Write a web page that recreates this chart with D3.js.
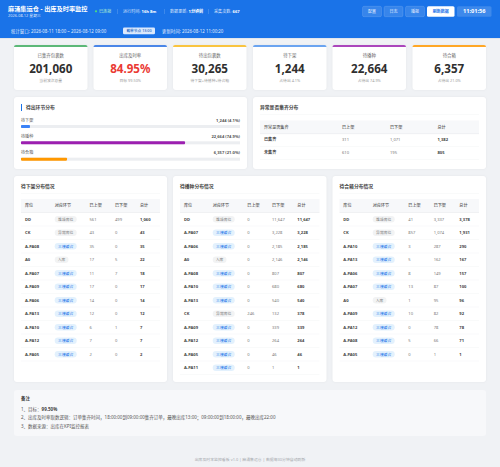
<!DOCTYPE html>
<html>
<head>
<meta charset="utf-8">
<script src="https://cdn.jsdelivr.net/npm/d3@7"></script>
<style>
  html, body { margin: 0; padding: 0; background: #f0f2f5; }
  svg { display: block; }
  text { font-family: "Noto Sans", "Noto Sans CJK SC", sans-serif; }
</style>
</head>
<body>
<div id="vis"></div>
<script>
// kpi cards
const kpiLabels = ['已集齐包裹数', '出库及时率', '待出包裹数', '待下架', '待播种', '待合箱'];
const kpiValues = ['201,060', '84.95%', '30,265', '1,244', '22,664', '6,357'];
const kpiNotes = ['当前波次总量', '目标 99.50%', '待下架+待播种+待合箱', '占待出 4.1%', '占待出 74.9%', '占待出 21.0%'];
const kpiColors = ['#5cb878', '#4a86e8', '#f9c440', '#6ba4f0', '#ab47bc', '#ffa726'];

// progress bars
const stageNames = ['待下架', '待播种', '待合箱'];
const stageCounts = [1244, 22664, 6357];
const stagePcts = [4.1, 74.9, 21.0];
const stageColors = ['#3b82f6', '#9c1fb0', '#ff9800'];

// table columns
const exceptionColumns = ['异常是否集齐', '已上架', '已下架', '总计'];
const exceptionRows = ['已集齐', '未集齐'];
const exceptionUp = [311, 610];
const exceptionDown = [1071, 195];
const locColumns = ['库位', '对应环节', '已上架', '已下架', '总计'];

// 待下架
const pickLocs = ['DD', 'CK', 'A-PA08', 'A0', 'A-PA07', 'A-PA09', 'A-PA06', 'A-PA13', 'A-PA10', 'A-PA12', 'A-PA05'];
const pickStage = ['堆垛库位', '异常库位', '三楼缓合', '入库', '三楼缓合', '三楼缓合', '三楼缓合', '三楼缓合', '三楼缓合', '三楼缓合', '三楼缓合'];
const pickUp = [561, 43, 35, 17, 11, 17, 14, 12, 6, 7, 2];
const pickDown = [499, 0, 0, 5, 7, 0, 0, 0, 1, 0, 0];

// 待播种
const seedLocs = ['DD', 'A-PA07', 'A-PA06', 'A0', 'A-PA08', 'A-PA10', 'A-PA13', 'CK', 'A-PA09', 'A-PA12', 'A-PA05', 'A-PA11'];
const seedStage = ['堆垛库位', '三楼缓合', '三楼缓合', '入库', '三楼缓合', '三楼缓合', '三楼缓合', '异常库位', '三楼缓合', '三楼缓合', '三楼缓合', '三楼缓合'];
const seedUp = [0, 0, 0, 0, 0, 0, 0, 246, 0, 0, 0, 0];
const seedDown = [11647, 3228, 2185, 2146, 807, 680, 540, 132, 339, 264, 46, 1];

// 待合箱
const packLocs = ['DD', 'CK', 'A-PA10', 'A-PA13', 'A-PA06', 'A-PA07', 'A0', 'A-PA09', 'A-PA12', 'A-PA08', 'A-PA05'];
const packStage = ['堆垛库位', '异常库位', '三楼缓合', '三楼缓合', '三楼缓合', '三楼缓合', '入库', '三楼缓合', '三楼缓合', '三楼缓合', '三楼缓合'];
const packUp = [41, 857, 3, 5, 8, 13, 1, 10, 0, 5, 0];
const packDown = [3337, 1074, 287, 162, 149, 87, 95, 82, 78, 66, 1];

const notes = [
  ['1、目标：', '99.50%'],
  ['2、出库及时率取数逻辑：订单集齐时间，18:00:00到09:00:00集齐订单，最晚出库13:00；09:00:00到18:00:00，最晚出库22:00', ''],
  ['3、数据来源：出库在KPI监控报表', '']
];

const fmt = d3.format(',');

const svg = d3.select('#vis')
  .append('svg')
  .attr('width', 500)
  .attr('height', 467)
  .attr('viewBox', '0 0 500 467');

// small helpers
function label(g, x, y, str, size, fill, weight, anchor) {
  return g.append('text')
    .attr('x', x)
    .attr('y', y)
    .attr('dy', '0.35em')
    .attr('font-size', size)
    .attr('fill', fill)
    .attr('font-weight', weight || 400)
    .attr('text-anchor', anchor || 'start')
    .text(str);
}

function card(x, y, w, h) {
  svg.append('rect')
    .attr('x', x).attr('y', y)
    .attr('width', w).attr('height', h)
    .attr('rx', 3)
    .attr('fill', '#fff')
    .style('filter', 'drop-shadow(0 0.5px 1px rgba(0,0,0,0.05))');
}

svg.append('rect').attr('width', 500).attr('height', 467).attr('fill', '#f0f2f5');

// header
const head = svg.append('g');
head.append('rect').attr('width', 500).attr('height', 38).attr('fill', '#1a73e8');
label(head, 8, 9.3, '麻涌集运仓 - 出库及时率监控', 6.2, '#fff', 700);
label(head, 8, 15.8, '2026-08-12 星期三', 3.9, 'rgba(255,255,255,0.85)');
head.append('circle').attr('cx', 96).attr('cy', 11.3).attr('r', 1.1).attr('fill', '#4ade80');
label(head, 99, 11.5, '已连接', 4.1, '#bbf7d0');

const statX = [123, 170, 214];
const statNames = ['运行时间: ', '数据更新: ', '采集次数: '];
const statVals = ['16h 8m', '1分钟前', '667'];
statNames.forEach((s, i) => {
  head.append('rect').attr('x', statX[i] - 6).attr('y', 9).attr('width', 0.4).attr('height', 5).attr('fill', 'rgba(255,255,255,0.4)');
  const t = label(head, statX[i], 11.5, s, 4.1, 'rgba(255,255,255,0.85)');
  t.append('tspan').attr('font-weight', 700).attr('fill', '#fff').text(statVals[i]);
});

const btnX = [362.5, 384, 405.5];
const btnNames = ['配置', '日志', '播报'];
btnNames.forEach((s, i) => {
  head.append('rect').attr('x', btnX[i]).attr('y', 6.3).attr('width', 19).attr('height', 10.4).attr('rx', 1.5)
    .attr('fill', 'rgba(255,255,255,0.13)').attr('stroke', 'rgba(255,255,255,0.3)').attr('stroke-width', 0.4);
  label(head, btnX[i] + 9.5, 11.5, s, 4, '#e8f0fe', 400, 'middle');
});
head.append('rect').attr('x', 427).attr('y', 6.3).attr('width', 27.5).attr('height', 10.4).attr('rx', 1.5).attr('fill', '#fff');
label(head, 440.7, 11.5, '刷新数据', 4, '#1a73e8', 700, 'middle');
head.append('rect').attr('x', 457).attr('y', 6.3).attr('width', 34.5).attr('height', 10.4).attr('rx', 1.5).attr('fill', 'rgba(255,255,255,0.16)');
label(head, 474.2, 11.5, '11:01:56', 5.6, '#fff', 700, 'middle');

label(head, 11, 31, '统计窗口: 2026-08-11 18:00 ~ 2026-08-12 09:00', 4.4, 'rgba(255,255,255,0.9)');
head.append('rect').attr('x', 123).attr('y', 27.5).attr('width', 32).attr('height', 6.8).attr('rx', 1.3).attr('fill', '#dbe9fd');
label(head, 139, 31, '截单节点 13:00', 3.7, '#1a5fc0', 500, 'middle');
label(head, 162, 31, '更新时间: 2026-08-12 11:00:20', 4.4, 'rgba(255,255,255,0.9)');
svg.append('rect').attr('y', 38).attr('width', 500).attr('height', 1).attr('fill', '#e2e6ec');

// kpi cards
const kpiX = d3.scaleOrdinal().domain(kpiLabels).range([14, 93.5, 173, 253, 332.5, 412.5]);
kpiLabels.forEach((name, i) => {
  const x = kpiX(name), w = 73.5, mid = x + w / 2;
  card(x, 45, w, 45);
  svg.append('path')
    .attr('d', `M${x},47 a2,2 0 0 1 2,-2 h${w - 4} a2,2 0 0 1 2,2 z`)
    .attr('fill', kpiColors[i]);
  label(svg, mid, 55.3, name, 4.4, '#666', 400, 'middle');
  label(svg, mid, 68.5, kpiValues[i], 11.6, i === 1 ? '#ea3a33' : '#2f2f2f', 700, 'middle');
  label(svg, mid, 80.5, kpiNotes[i], 3.8, '#9a9a9a', 400, 'middle');
});

// stage distribution
card(14, 97, 233, 72);
svg.append('rect').attr('x', 21).attr('y', 104).attr('width', 1).attr('height', 7).attr('fill', '#1a73e8');
label(svg, 26, 107.7, '待出环节分布', 4.8, '#444', 700);

const barX = d3.scaleLinear().domain([0, 100]).range([21, 240]);
const barY = d3.scaleBand().domain(stageNames).range([118, 167]);
stageNames.forEach((name, i) => {
  const y = barY(name);
  label(svg, 21, y + 2.2, name, 4.1, '#555');
  label(svg, 240, y + 2.2, `${fmt(stageCounts[i])} (${stagePcts[i].toFixed(1)}%)`, 4.1, '#555', 700, 'end');
  svg.append('rect').attr('x', barX(0)).attr('y', y + 7).attr('width', barX(100) - barX(0)).attr('height', 3).attr('fill', '#eceef1');
  svg.append('rect').attr('x', barX(0)).attr('y', y + 7).attr('width', barX(stagePcts[i]) - barX(0)).attr('height', 3).attr('rx', 0.8).attr('fill', stageColors[i]);
});

// generic table
function tableHead(x0, x1, yTop, xs, names) {
  svg.append('rect').attr('x', x0).attr('y', yTop).attr('width', x1 - x0).attr('height', 13).attr('fill', '#f7f8fa');
  svg.append('rect').attr('x', x0).attr('y', yTop + 13).attr('width', x1 - x0).attr('height', 0.6).attr('fill', '#e6e8eb');
  names.forEach((n, i) => label(svg, xs[i], yTop + 6.6, n, 4.1, '#555', 500));
}

function rowLine(x0, x1, y) {
  svg.append('rect').attr('x', x0).attr('y', y).attr('width', x1 - x0).attr('height', 0.4).attr('fill', '#f0f1f3');
}

// exception table
card(253, 97, 233, 72);
label(svg, 260, 107.7, '异常是否集齐分布', 4.8, '#444', 700);
rowLine(260, 479, 114.5);
const excX = [264, 342, 390, 437.5];
tableHead(260, 479, 120.5, excX, exceptionColumns);
const excY = d3.scalePoint().domain(exceptionRows).range([140, 152.7]);
exceptionRows.forEach((name, i) => {
  const y = excY(name);
  label(svg, excX[0], y, name, 4.1, '#444', 700);
  label(svg, excX[1], y, fmt(exceptionUp[i]), 4.1, '#777');
  label(svg, excX[2], y, fmt(exceptionDown[i]), 4.1, '#777');
  label(svg, excX[3], y, fmt(exceptionUp[i] + exceptionDown[i]), 4.1, '#444', 700);
  rowLine(260, 479, y + 6.3);
});

// location tables
const rowStep = 13.5;
function locTable(title, x, w, xs, locs, stages, up, down) {
  card(x, 176, w, 206);
  const x0 = x + 7, x1 = x + w - 7;
  label(svg, x0, 186.5, title, 4.8, '#444', 700);
  rowLine(x0, x1, 193);
  tableHead(x0, x1, 199, xs, locColumns);
  const rowY = d3.scalePoint()
    .domain(locs)
    .range([219.3, 219.3 + rowStep * (locs.length - 1)]);
  locs.forEach((loc, i) => {
    const y = rowY(loc);
    label(svg, xs[0], y, loc, 4.1, '#444', 700);
    const isBlue = stages[i] === '三楼缓合';
    const pw = stages[i].length * 4.1 + 5.6;
    svg.append('rect').attr('x', xs[1]).attr('y', y - 3.3).attr('width', pw).attr('height', 6.6).attr('rx', 3.3)
      .attr('fill', isBlue ? '#e3f1fd' : '#f2f3f4');
    label(svg, xs[1] + pw / 2, y, stages[i], 3.8, isBlue ? '#1a73e8' : '#777', 400, 'middle');
    label(svg, xs[2], y, fmt(up[i]), 4.1, '#777');
    label(svg, xs[3], y, fmt(down[i]), 4.1, '#777');
    label(svg, xs[4], y, fmt(up[i] + down[i]), 4.1, '#444', 700);
    rowLine(x0, x1, y + 6.5);
  });
}
locTable('待下架分布情况', 14, 153, [25, 54.7, 89.5, 115, 140], pickLocs, pickStage, pickUp, pickDown);
locTable('待播种分布情况', 173, 153.5, [184, 212.7, 247.3, 272, 297.3], seedLocs, seedStage, seedUp, seedDown);
locTable('待合箱分布情况', 332.5, 153.5, [343.3, 372.7, 408.3, 433.7, 459.3], packLocs, packStage, packUp, packDown);

// notes
svg.append('rect').attr('x', 14).attr('y', 390).attr('width', 472).attr('height', 46).attr('rx', 3).attr('fill', '#f7f8fa');
label(svg, 21, 398.5, '备注', 4.4, '#444', 700);
const noteY = d3.scalePoint().domain(notes.map(d => d[0])).range([409, 426]);
notes.forEach(d => {
  const t = label(svg, 21, noteY(d[0]), d[0], 4.5, '#555');
  t.append('tspan').attr('font-weight', 700).attr('fill', '#444').text(d[1]);
});

// footer
label(svg, 250, 459.3, '出库及时率监控看板 v1.0 | 麻涌集运仓 | 数据每30分钟自动刷新', 3.9, '#a5a8ad', 400, 'middle');
</script>
</body>
</html>
